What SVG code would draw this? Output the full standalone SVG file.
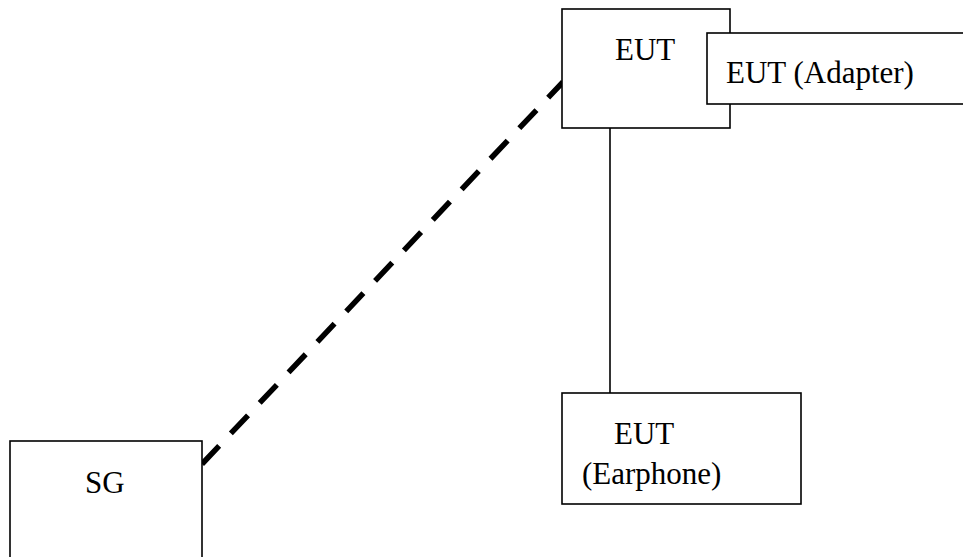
<svg xmlns="http://www.w3.org/2000/svg" width="963" height="557" viewBox="0 0 963 557">
<style>
.box{fill:#fff;stroke:#000;stroke-width:1.6}
.t{font-family:"Liberation Serif","Times New Roman",serif;font-size:31px;fill:#000}
.dash{stroke:#000;stroke-width:5.5;stroke-dasharray:25 17;fill:none}
.solid{stroke:#000;stroke-width:1.6;fill:none}
</style>
<rect width="963" height="557" fill="#fff"/>
<g id="connectors">
<line class="dash" x1="202" y1="464" x2="563" y2="82"/>
<line class="solid" x1="610" y1="128" x2="610" y2="393"/>
</g>
<g id="eut">
<rect class="box" x="562" y="9" width="168" height="119"/>
<text class="t" x="615" y="60">EUT</text>
</g>
<g id="adapter">
<rect class="box" x="707" y="33" width="270" height="71"/>
<text class="t" x="726" y="83">EUT (Adapter)</text>
</g>
<g id="earphone">
<rect class="box" x="562" y="393" width="239" height="111"/>
<text class="t" x="614" y="444">EUT</text>
<text class="t" x="582" y="484">(Earphone)</text>
</g>
<g id="sg">
<rect class="box" x="10" y="441" width="192" height="130"/>
<text class="t" x="85" y="493">SG</text>
</g>
</svg>
